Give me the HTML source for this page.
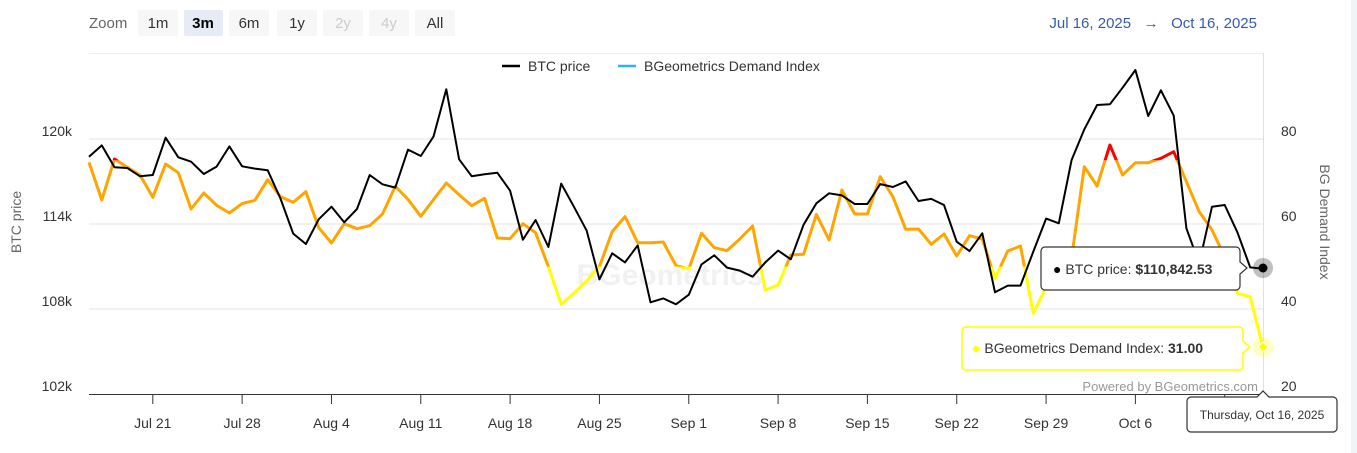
<!DOCTYPE html>
<html><head><meta charset="utf-8"><style>
html,body{margin:0;padding:0;background:#fff;}
svg{display:block;font-family:"Liberation Sans",Arial,sans-serif;}
</style></head><body>
<svg id="chart" width="1357" height="453" viewBox="0 0 1357 453">
<rect x="1351" y="0" width="6" height="453" fill="#f0f3f8"/>
<g>
<text x="89" y="28" font-size="15" fill="#666">Zoom</text>
<g><rect x="138" y="10" width="40" height="26" rx="2" fill="#f7f7f7"/><text x="158" y="28" font-size="15" fill="#333" text-anchor="middle">1m</text></g>
<g><rect x="184" y="10" width="39" height="26" rx="2" fill="#e6ebf5"/><text x="203" y="28" font-size="15" fill="#000" font-weight="bold" text-anchor="middle">3m</text></g>
<g><rect x="229" y="10" width="40" height="26" rx="2" fill="#f7f7f7"/><text x="249" y="28" font-size="15" fill="#333" text-anchor="middle">6m</text></g>
<g><rect x="277" y="10" width="40" height="26" rx="2" fill="#f7f7f7"/><text x="297" y="28" font-size="15" fill="#333" text-anchor="middle">1y</text></g>
<g><rect x="323" y="10" width="40" height="26" rx="2" fill="#f7f7f7"/><text x="343" y="28" font-size="15" fill="#ccc" text-anchor="middle">2y</text></g>
<g><rect x="369" y="10" width="40" height="26" rx="2" fill="#f7f7f7"/><text x="389" y="28" font-size="15" fill="#ccc" text-anchor="middle">4y</text></g>
<g><rect x="415" y="10" width="40" height="26" rx="2" fill="#f7f7f7"/><text x="435" y="28" font-size="15" fill="#333" text-anchor="middle">All</text></g>
</g>
<g>
<text x="1257" y="28" font-size="15" fill="#335cad" text-anchor="end">Jul 16, 2025 &#160;&#160;→&#160;&#160; Oct 16, 2025</text>
</g>
<line x1="89" y1="53.5" x2="1263" y2="53.5" stroke="#eee"/>
<line x1="1263.5" y1="53" x2="1263.5" y2="394" stroke="#e0e0e0"/>
<g id="grid"></g>
<text x="670" y="285" font-size="30" font-weight="bold" fill="#000" opacity="0.05" text-anchor="middle">BGeometrics</text>
<g>
<g><line x1="502" y1="66" x2="520" y2="66" stroke="#000" stroke-width="2.5"/><text x="528" y="71" font-size="14" fill="#333">BTC price</text></g>
<g><line x1="618" y1="66" x2="636" y2="66" stroke="#2caffe" stroke-width="2.5"/><text x="644" y="71" font-size="14" fill="#333">BGeometrics Demand Index</text></g>
</g>
<g id="axes"></g>
<defs>
<clipPath id="cy"><rect x="80" y="266.5" width="1200" height="200"/></clipPath>
<clipPath id="co"><rect x="80" y="160.25" width="1200" height="106.25"/></clipPath>
<clipPath id="cr"><rect x="80" y="0" width="1200" height="160.25"/></clipPath>
</defs>
<g id="series"></g>
<text x="1258" y="391" font-size="13" fill="#999" text-anchor="end">Powered by BGeometrics.com</text>
<g>
<circle cx="1263" cy="268" r="10" fill="#000" opacity="0.25"/>
<circle cx="1263" cy="268" r="4.5" fill="#000"/>
<path d="M1045 247 H1236 a4 4 0 0 1 4 4 V262 L1247 268 L1240 274 V286 a4 4 0 0 1 -4 4 H1045 a4 4 0 0 1 -4 -4 V251 a4 4 0 0 1 4 -4Z" fill="#fff" stroke="#333" stroke-width="1.2"/>
<text x="1053" y="274" font-size="14" fill="#333"><tspan fill="#000">●</tspan> BTC price: <tspan font-weight="bold">$110,842.53</tspan></text>
</g>
<g>
<circle cx="1263" cy="347" r="10" fill="#ffff00" opacity="0.25"/>
<path d="M1263 342 L1268 347 L1263 352 L1258 347Z" fill="#ffff00" stroke="#fff"/>
<path d="M966 327 H1239 a4 4 0 0 1 4 4 V341 L1250 347 L1243 353 V366 a4 4 0 0 1 -4 4 H966 a4 4 0 0 1 -4 -4 V331 a4 4 0 0 1 4 -4Z" fill="#fff" stroke="#ffff00" stroke-width="1.5"/>
<text x="972" y="353" font-size="14" fill="#333"><tspan fill="#ffff00">●</tspan> BGeometrics Demand Index: <tspan font-weight="bold">31.00</tspan></text>
</g>
<g>
<path d="M1191 397 H1257 L1263 391 L1269 397 H1333 a4 4 0 0 1 4 4 V428 a4 4 0 0 1 -4 4 H1191 a4 4 0 0 1 -4 -4 V401 a4 4 0 0 1 4 -4Z" fill="#fff" stroke="#333" stroke-width="1.2"/>
<text x="1262" y="419" font-size="12" fill="#333" text-anchor="middle">Thursday, Oct 16, 2025</text>
</g>
</svg>
<script>
const btcPrice=[118.75,119.55,118.0,117.95,117.37,117.46,120.09,118.71,118.40,117.53,118.05,119.48,118.07,117.91,117.79,115.81,113.32,112.59,114.33,115.22,114.12,115.06,117.46,116.80,116.57,119.25,118.80,120.17,123.51,118.57,117.37,117.51,117.62,116.35,112.89,114.28,112.38,116.85,
115.22,113.53,110.09,111.93,111.29,112.49,108.47,108.75,108.33,109.01,111.15,111.79,110.92,110.71,110.28,111.29,112.12,111.51,113.95,115.46,116.17,116.02,115.41,115.41,116.82,116.61,117.01,115.62,115.77,115.34,112.75,112.09,113.34,109.18,109.65,109.65,
112.05,114.38,114.05,118.52,120.68,122.40,122.45,123.62,124.87,121.62,123.44,121.65,113.69,111.22,115.22,115.34,113.39,110.94,110.84];
const demandIndex=[74.5,65.65,75.3,73.33,71.53,66.28,74.12,72.08,63.53,67.30,64.39,62.59,64.79,65.57,70.43,66.43,65.10,67.61,59.14,55.53,60.08,58.90,59.61,62.35,68.86,65.81,61.80,65.73,69.65,66.90,64.31,66.04,56.71,56.55,60.08,57.96,49.96,41.10,
43.69,46.67,49.96,58.20,61.73,55.61,55.61,55.76,50.20,49.41,57.80,54.43,53.73,56.47,59.53,44.47,45.65,52.71,52.86,62.27,56.24,68.00,62.35,62.35,71.14,66.43,58.75,58.82,55.22,57.65,52.47,57.25,56.47,47.22,53.65,54.82,
38.98,45.2,47,52,73.49,68.94,78.59,71.53,74.43,74.43,75.45,77.02,69.96,62.90,58.59,52.31,43.69,42.90,31.00];
const btcTicks=[102,108,114,120];
const btcTickLabels=["102k","108k","114k","120k"];
const demandTicks=[20,40,60,80];
const dateLabels=["Jul 21","Jul 28","Aug 4","Aug 11","Aug 18","Aug 25","Sep 1","Sep 8","Sep 15","Sep 22","Sep 29","Oct 6","Oct 13"];
const dateLabelDays=[5,12,19,26,33,40,47,54,61,68,75,82,89];

const NS="http://www.w3.org/2000/svg";
const X0=89,X1=1263,YB=394,YT=139;
const nDays=92;
const xs=d=>X0+(X1-X0)*d/nDays;
const yBtc=v=>YB-(v-102)/(120-102)*(YB-YT);
const yDem=v=>YB-(v-20)/(80-20)*(YB-YT);
function mk(tag,attrs,parent){const e=document.createElementNS(NS,tag);for(const k in attrs)e.setAttribute(k,attrs[k]);parent.appendChild(e);return e;}
const grid=document.getElementById('grid'),axes=document.getElementById('axes'),series=document.getElementById('series');
btcTicks.forEach((t,i)=>{
  const y=yBtc(t);
  if(i>0){const g=mk('line',{x1:X0,x2:X1,y1:y,y2:y,stroke:'#e6e6e6','stroke-width':1},grid);
  
  }
  const l=mk('text',{x:72,y:y-3,'font-size':14,fill:'#333','text-anchor':'end'},axes);l.textContent=btcTickLabels[i];
  
  
});
demandTicks.forEach(t=>{
  const y=yDem(t);
  const l=mk('text',{x:1281,y:y-3,'font-size':14,fill:'#333'},axes);l.textContent=t;
  
  
});
const ax=mk('line',{x1:X0,x2:X1,y1:YB+0.5,y2:YB+0.5,stroke:'#333','stroke-width':1},axes);


dateLabels.forEach((lab,i)=>{
  const x=xs(dateLabelDays[i]);
  const t=mk('line',{x1:x,x2:x,y1:YB,y2:YB+10,stroke:'#333'},axes);
  
  
  const l=mk('text',{x:x,y:428,'font-size':14,fill:'#333','text-anchor':'middle'},axes);l.textContent=lab;
  
  
});
const lt=mk('text',{x:0,y:0,'font-size':14,fill:'#666','text-anchor':'middle',transform:'translate(21,222) rotate(-90)'},axes);lt.textContent='BTC price';


const rt=mk('text',{x:0,y:0,'font-size':14,fill:'#666','text-anchor':'middle',transform:'translate(1320,222) rotate(90)'},axes);rt.textContent='BG Demand Index';


const dPts=demandIndex.map((v,i)=>xs(i).toFixed(1)+','+yDem(v).toFixed(1)).join(' ');
[['cy','#ffff00','demand-line-low'],['co','#ffa500','demand-line-mid'],['cr','#ff0000','demand-line-high']].forEach(([c,col,nm])=>{
  const p=mk('polyline',{points:dPts,fill:'none',stroke:col,'stroke-width':3,'stroke-linejoin':'round','clip-path':'url(#'+c+')'},series);
  
  
});
const bPts=btcPrice.map((v,i)=>xs(i).toFixed(1)+','+yBtc(v).toFixed(1)).join(' ');
const bl=mk('polyline',{points:bPts,fill:'none',stroke:'#000','stroke-width':2,'stroke-linejoin':'round'},series);


</script>
</body></html>
